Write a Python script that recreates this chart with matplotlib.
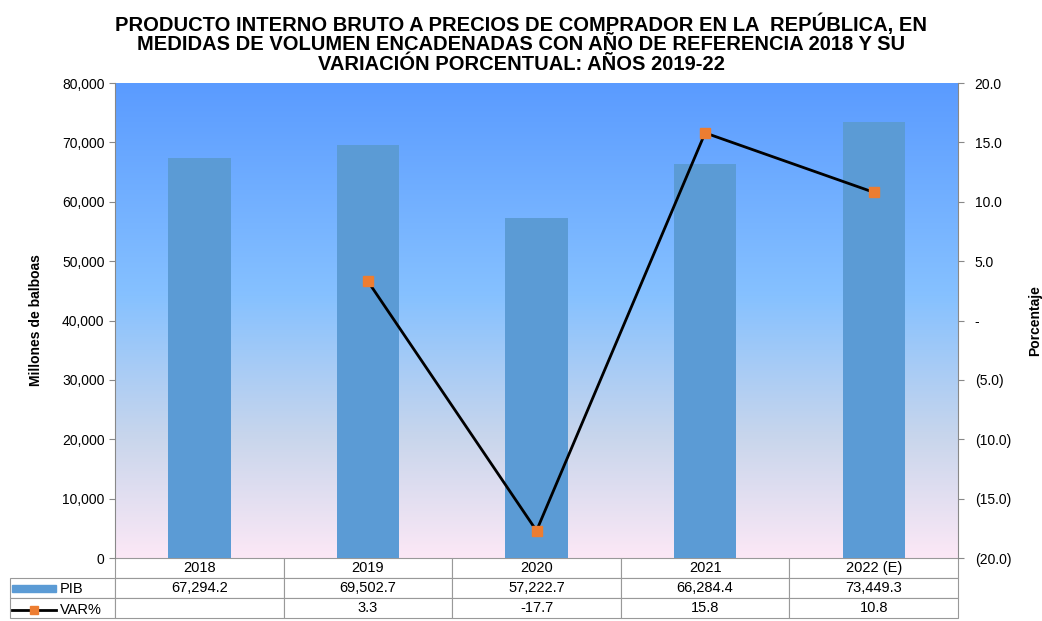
import numpy as np
import matplotlib.pyplot as plt
from matplotlib.colors import LinearSegmentedColormap
from matplotlib.lines import Line2D
from matplotlib.patches import Rectangle

# datos
years = ['2018', '2019', '2020', '2021', '2022 (E)']
pib = [67294.2, 69502.7, 57222.7, 66284.4, 73449.3]
var_pct = [None, 3.3, -17.7, 15.8, 10.8]
pib_txt = ['67,294.2', '69,502.7', '57,222.7', '66,284.4', '73,449.3']
var_txt = ['', '3.3', '-17.7', '15.8', '10.8']

plt.rcParams['font.family'] = ['Liberation Sans', 'DejaVu Sans']
narrow = ['Liberation Sans Narrow', 'Liberation Sans', 'DejaVu Sans']

fig = plt.figure(figsize=(10.42, 6.21), dpi=100)
ax = fig.add_axes([0.1104, 0.1014, 0.8090, 0.7649])

x = np.arange(len(years))

# fondo degradado
cmap = LinearSegmentedColormap.from_list('bg', [(0.0, '#FCE8F6'), (0.25, '#C9D6EC'),
                                                (0.55, '#86C1FF'), (1.0, '#5A9BFF')])
grad = np.linspace(0, 1, 256).reshape(-1, 1)
ax.imshow(grad, cmap=cmap, origin='lower', aspect='auto',
          extent=[-0.5, len(years) - 0.5, 0, 80000], zorder=0)

ax.bar(x, pib, width=0.37, color='#5B9BD5', zorder=2)
ax.set_xlim(-0.5, len(years) - 0.5)
ax.set_ylim(0, 80000)
ax.set_yticks(np.arange(0, 80001, 10000))
ax.set_yticklabels(['0' if v == 0 else f'{v:,}' for v in range(0, 80001, 10000)], fontsize=10)
ax.set_xticks([])
ax.set_ylabel('Millones de balboas', fontsize=10, fontweight='bold', family=narrow, labelpad=14)
for s in ['top', 'right', 'bottom']:
    ax.spines[s].set_visible(False)
ax.spines['left'].set_color('#888888')
ax.tick_params(axis='y', color='#888888', length=4)

ax2 = ax.twinx()
xv = [i for i, v in enumerate(var_pct) if v is not None]
yv = [v for v in var_pct if v is not None]
ax2.plot(xv, yv, color='black', lw=2, marker='s', markersize=7,
         markerfacecolor='#ED7D31', markeredgecolor='#ED7D31', zorder=3)
ax2.set_ylim(-20, 20)
rt = np.arange(-20, 21, 5)
ax2.set_yticks(rt)
ax2.set_yticklabels(['-' if v == 0 else (f'({abs(v):.1f})' if v < 0 else f'{v:.1f}') for v in rt],
                    fontsize=10)
ax2.tick_params(axis='y', pad=8)
ax2.set_ylabel('Porcentaje', fontsize=10, fontweight='bold', family=narrow, labelpad=12)
for s in ['top', 'left', 'bottom']:
    ax2.spines[s].set_visible(False)
ax2.spines['right'].set_color('#888888')
ax2.tick_params(axis='y', color='#888888', length=4)

# tabla de datos
cells = [[''] + years, [''] + pib_txt, [''] + var_txt]
tab = ax.table(cellText=cells, cellLoc='center', bbox=[-0.1246, -0.1265, 1.1246, 0.1265],
               colWidths=[0.1246] + [0.2] * 5)
tab.auto_set_font_size(False)
tab.set_fontsize(10.5)
for (r, c), cell in tab.get_celld().items():
    cell.set_edgecolor('#999999')
    cell.set_linewidth(0.8)
    cell.set_facecolor('white')
tab[0, 0].visible_edges = ''
tab[0, 0].set_facecolor('none')

# claves de leyenda en la tabla
fig.patches.append(Rectangle((12 / 1042, 1 - 592 / 621), 44 / 1042, 7 / 621,
                             transform=fig.transFigure, color='#5B9BD5'))
fig.text(60 / 1042, 1 - 589 / 621, 'PIB', fontsize=10.5, va='center')
fig.lines.append(Line2D([12 / 1042, 56 / 1042], [1 - 610 / 621] * 2, transform=fig.transFigure,
                        color='black', lw=2))
fig.lines.append(Line2D([34 / 1042], [1 - 610 / 621], transform=fig.transFigure,
                        marker='s', markersize=6, color='#ED7D31', lw=0))
fig.text(60 / 1042, 1 - 610 / 621, 'VAR%', fontsize=10.5, va='center')

fig.text(0.5, 0.978, 'PRODUCTO INTERNO BRUTO A PRECIOS DE COMPRADOR EN LA  REPÚBLICA, EN\n'
         'MEDIDAS DE VOLUMEN ENCADENADAS CON AÑO DE REFERENCIA 2018 Y SU\n'
         'VARIACIÓN PORCENTUAL: AÑOS 2019-22',
         ha='center', va='top', fontsize=14.5, fontweight='bold', family=narrow, linespacing=1.02)

fig.savefig('out.png', dpi=100)
